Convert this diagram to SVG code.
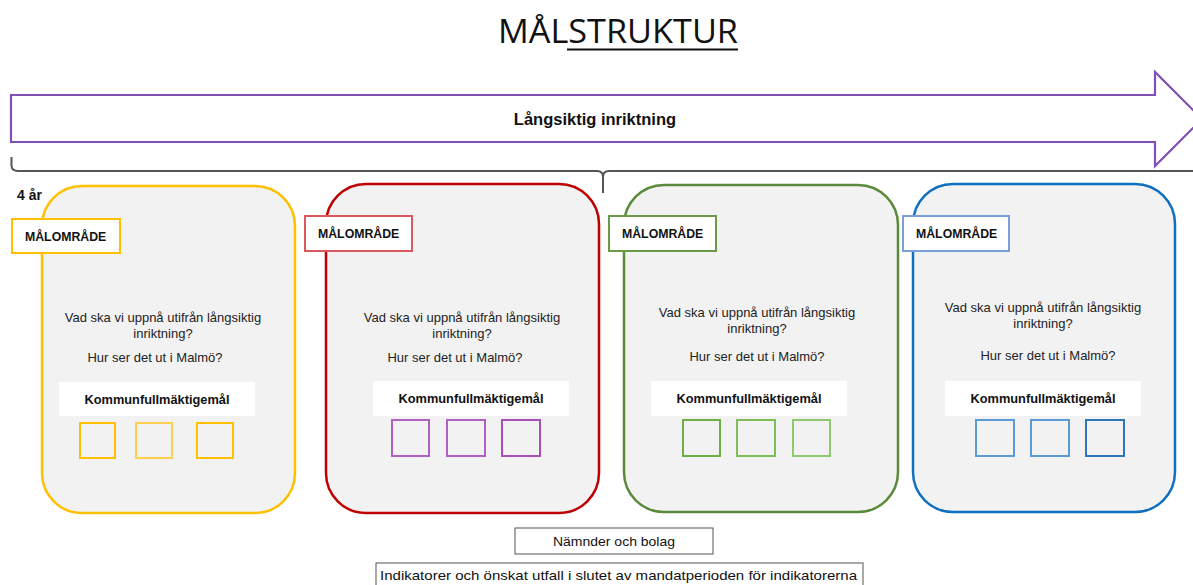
<svg xmlns="http://www.w3.org/2000/svg" width="1193" height="585" viewBox="0 0 1193 585">
<style>
.card{fill:#f2f2f2;stroke-width:2.5}
.lbl{fill:#ffffff;stroke-width:2}
.lt{font-family:"Liberation Sans",Arial,sans-serif;font-size:12.3px;font-weight:bold;fill:#111}
.q{font-family:"Liberation Sans",Arial,sans-serif;font-size:13px;fill:#222;text-anchor:middle}
.kf{font-family:"Liberation Sans",Arial,sans-serif;font-size:12.8px;font-weight:bold;fill:#111;text-anchor:middle}
.sq{fill:none;stroke-width:2}
.wb{fill:#ffffff}
.bt{font-family:"Liberation Sans",Arial,sans-serif;font-size:13.5px;fill:#111}
</style>
<rect width="1193" height="585" fill="#ffffff"/>
<g id="title">
<text x="498" y="43" font-family="'Open Sans','Liberation Sans',sans-serif" font-size="32" fill="#111" textLength="240" lengthAdjust="spacingAndGlyphs">MÅLSTRUKTUR</text>
<line x1="567" y1="49.5" x2="738" y2="49.5" stroke="#111" stroke-width="2.2"/>
</g>
<g id="arrow">
<polygon points="11,95 1155,95 1155,72 1202,119 1155,166 1155,142 11,142" fill="#ffffff" stroke="#8050b8" stroke-width="2.2" stroke-linejoin="miter"/>
<text x="595" y="125" font-family="'Liberation Sans',Arial,sans-serif" font-size="16.5" font-weight="bold" fill="#111" text-anchor="middle">Långsiktig inriktning</text>
</g>
<g id="bracket" fill="none" stroke="#555" stroke-width="2">
<path d="M11.5,157 L11.5,166 Q12,171 18,171 L597,171 Q603,171 603,177 L603,193 M603,177 Q603,171 609,171 L1193,171"/>
</g>
<text x="17" y="200" font-family="'Liberation Sans',Arial,sans-serif" font-size="14" font-weight="bold" fill="#111">4 år</text>
<g id="card-yellow">
<rect class="card" x="42" y="186" width="253" height="327" rx="40" stroke="#FFC000"/>
<rect class="lbl" x="12" y="219" width="108" height="34" stroke="#FFC000"/>
<text class="lt" x="25" y="241">MÅLOMRÅDE</text>
<text class="q" x="163" y="322">Vad ska vi uppnå utifrån långsiktig</text>
<text class="q" x="163" y="338">inriktning?</text>
<text class="q" x="155" y="362">Hur ser det ut i Malmö?</text>
<rect class="wb" x="59" y="382" width="196" height="34"/>
<text class="kf" x="157" y="404">Kommunfullmäktigemål</text>
<rect class="sq" x="80" y="423" width="35" height="35" stroke="#FFC000"/>
<rect class="sq" x="136" y="423" width="36" height="35" stroke="#FFD050"/>
<rect class="sq" x="197" y="423" width="36" height="35" stroke="#FFC000"/>
</g>
<g id="card-red">
<rect class="card" x="326" y="184" width="273" height="329" rx="40" stroke="#C00000"/>
<rect class="lbl" x="305" y="216" width="107" height="35" stroke="#D9595E"/>
<text class="lt" x="318" y="238">MÅLOMRÅDE</text>
<text class="q" x="462" y="322">Vad ska vi uppnå utifrån långsiktig</text>
<text class="q" x="462" y="338">inriktning?</text>
<text class="q" x="455" y="362">Hur ser det ut i Malmö?</text>
<rect class="wb" x="373" y="381" width="196" height="35"/>
<text class="kf" x="471" y="403">Kommunfullmäktigemål</text>
<rect class="sq" x="392" y="420" width="37" height="36" stroke="#B060C0"/>
<rect class="sq" x="447" y="420" width="38" height="36" stroke="#B060C0"/>
<rect class="sq" x="502" y="420" width="38" height="36" stroke="#A850B8"/>
</g>
<g id="card-green">
<rect class="card" x="624" y="185" width="274" height="327" rx="40" stroke="#5A8A3A"/>
<rect class="lbl" x="609" y="216" width="107" height="35" stroke="#6A9A48"/>
<text class="lt" x="622" y="238">MÅLOMRÅDE</text>
<text class="q" x="757" y="317">Vad ska vi uppnå utifrån långsiktig</text>
<text class="q" x="757" y="333">inriktning?</text>
<text class="q" x="757" y="361">Hur ser det ut i Malmö?</text>
<rect class="wb" x="651" y="381" width="196" height="35"/>
<text class="kf" x="749" y="403">Kommunfullmäktigemål</text>
<rect class="sq" x="683" y="420" width="37" height="36" stroke="#70AD47"/>
<rect class="sq" x="737" y="420" width="38" height="36" stroke="#80BD58"/>
<rect class="sq" x="793" y="420" width="37" height="36" stroke="#90C870"/>
</g>
<g id="card-blue">
<rect class="card" x="913" y="184" width="262" height="328" rx="40" stroke="#1070C0"/>
<rect class="lbl" x="903" y="216" width="106" height="35" stroke="#7A9FD8"/>
<text class="lt" x="916" y="238">MÅLOMRÅDE</text>
<text class="q" x="1043" y="312">Vad ska vi uppnå utifrån långsiktig</text>
<text class="q" x="1043" y="328">inriktning?</text>
<text class="q" x="1048" y="360">Hur ser det ut i Malmö?</text>
<rect class="wb" x="945" y="381" width="196" height="35"/>
<text class="kf" x="1043" y="403">Kommunfullmäktigemål</text>
<rect class="sq" x="976" y="420" width="38" height="36" stroke="#5B9BD5"/>
<rect class="sq" x="1031" y="420" width="38" height="36" stroke="#5B9BD5"/>
<rect class="sq" x="1086" y="420" width="38" height="36" stroke="#2E75B6"/>
</g>
<g id="namnder">
<rect x="515" y="528" width="198" height="26" fill="#fff" stroke="#555" stroke-width="1"/>
<text class="bt" x="614" y="546" text-anchor="middle" textLength="122" lengthAdjust="spacingAndGlyphs">Nämnder och bolag</text>
</g>
<g id="indikatorer">
<rect x="376" y="563" width="487" height="30" fill="#fff" stroke="#555" stroke-width="1"/>
<text class="bt" x="380" y="580" textLength="477" lengthAdjust="spacingAndGlyphs">Indikatorer och önskat utfall i slutet av mandatperioden för indikatorerna</text>
</g>
<g id="connectors"></g>
</svg>
